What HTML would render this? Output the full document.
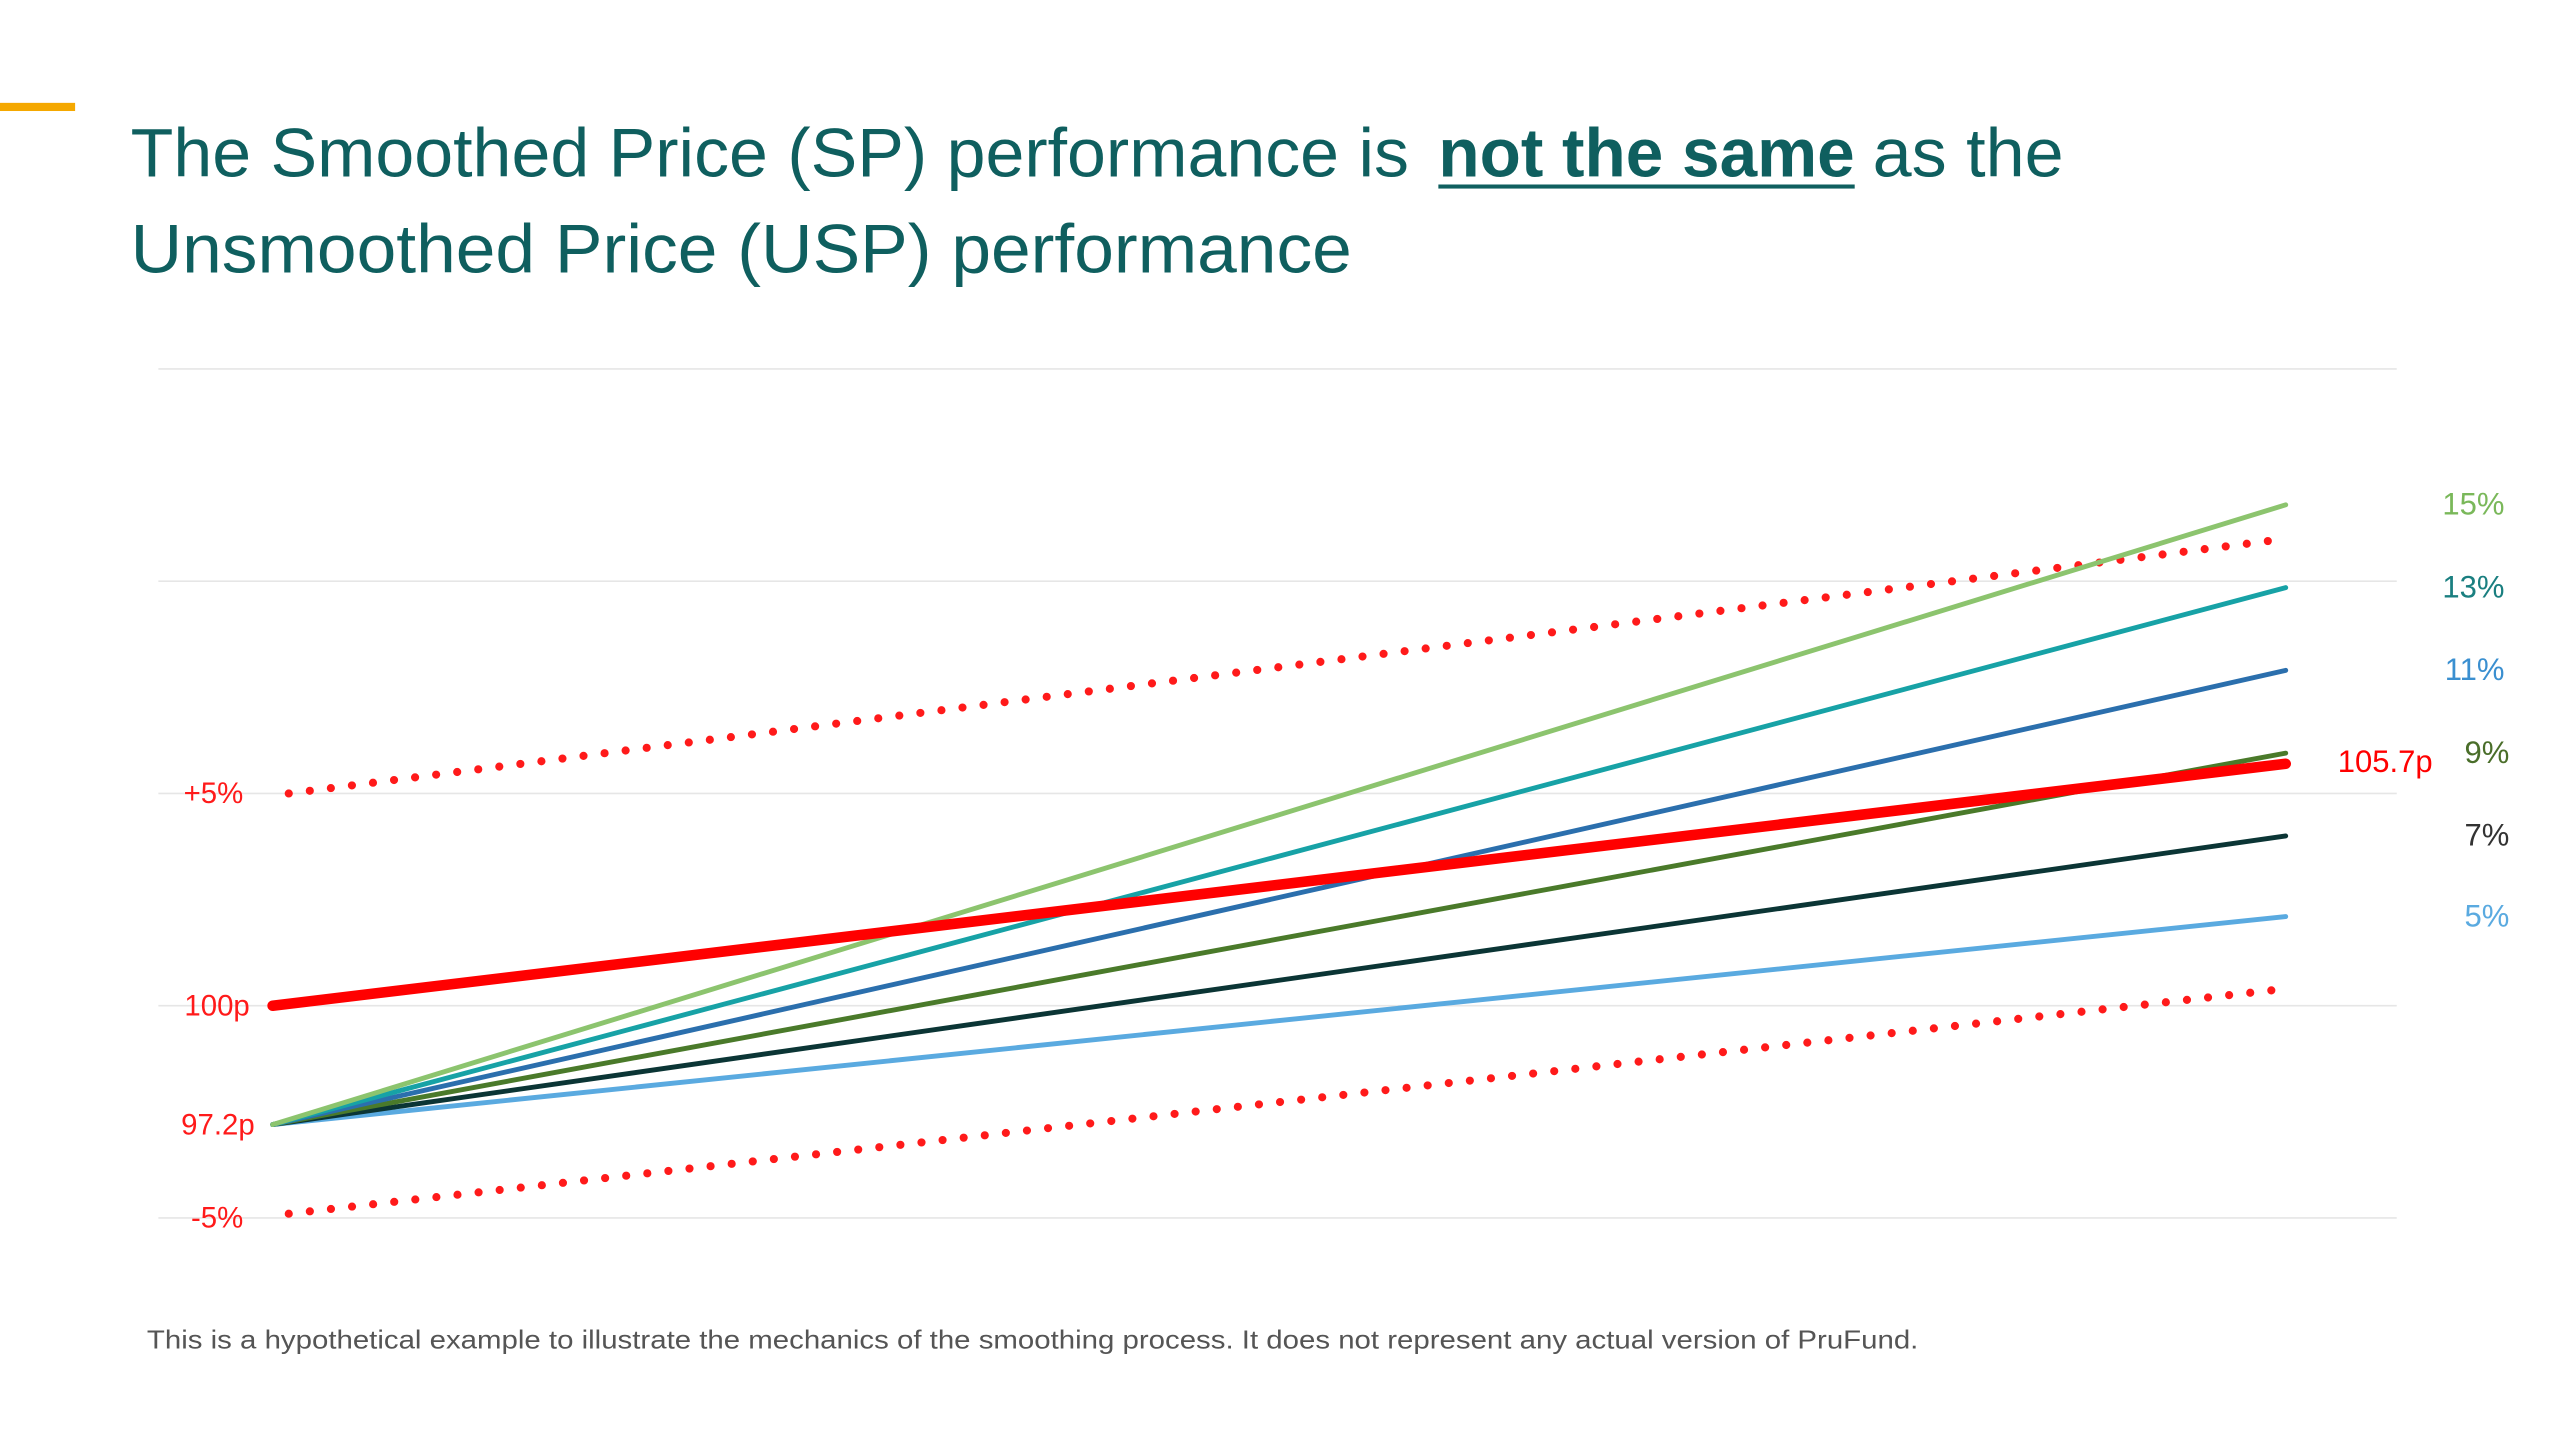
<!DOCTYPE html>
<html><head><meta charset="utf-8"><style>
html,body{margin:0;padding:0;background:#fff;}
svg{display:block;}
text{font-family:"Liberation Sans",sans-serif;}
</style></head><body>
<svg id="chart" width="2560" height="1440" viewBox="0 0 1568 882" preserveAspectRatio="none" xmlns="http://www.w3.org/2000/svg">
<rect x="0" y="0" width="1568" height="882" fill="#fff"/>
<rect x="0" y="63" width="46" height="5" fill="#f5a800"/>
<g fill="#0f5f5f" font-size="42">
<text x="80" y="108" textLength="783" lengthAdjust="spacingAndGlyphs">The Smoothed Price (SP) performance is</text>
<text x="881" y="108" textLength="255" lengthAdjust="spacingAndGlyphs" font-weight="bold">not the same</text>
<text x="1147" y="108" textLength="117" lengthAdjust="spacingAndGlyphs">as the</text>
<text x="80" y="167" textLength="748" lengthAdjust="spacingAndGlyphs">Unsmoothed Price (USP) performance</text>
</g>
<rect x="881" y="113" width="255" height="2.5" fill="#0f5f5f"/>
<g id="grid"></g>
<g id="series"></g>
<g id="labels"></g>
<text x="90" y="826" font-size="16" fill="#555" textLength="1085" lengthAdjust="spacingAndGlyphs">This is a hypothetical example to illustrate the mechanics of the smoothing process.  It does not represent any actual version of PruFund.</text>
</svg>
<script>
const gridValues = [95, 100, 105, 110, 115];
const uspNames = ['15%', '13%', '11%', '9%', '7%', '5%'];
const uspStart = [97.2, 97.2, 97.2, 97.2, 97.2, 97.2];
const uspEnd = [111.8, 109.85, 107.9, 105.95, 104.0, 102.1];
const uspColors = ['#8cc46e', '#17a2a6', '#2b6fad', '#4a7a2a', '#0b3535', '#5aaae0'];
const uspLabelColors = ['#7ab85a', '#1a7f80', '#3a8fd0', '#4a6e2a', '#333333', '#5aaae0'];
const spStart = 100, spEnd = 105.7;
const upperBand = [105, 111];
const lowerBand = [95.1, 100.4];
const axisLabels = ['+5%', '100p', '97.2p', '-5%'];
const axisLabelValues = [105, 100, 97.2, 95];

const NS = 'http://www.w3.org/2000/svg';
const X0 = 167, X1 = 1400;
function xs(t){ return X0 + t*(X1-X0); }
function ys(v){ return 616 - (v-100)*26; }
function mk(tag, attrs, parent){
  const e = document.createElementNS(NS, tag);
  for (const k in attrs) e.setAttribute(k, attrs[k]);
  parent.appendChild(e); return e;
}
const grid = document.getElementById('grid');
gridValues.forEach(v => {
  const l = mk('line', {x1:97, x2:1468, y1:ys(v), y2:ys(v), stroke:'#e6e6e6', 'stroke-width':1}, grid);
  
  
});
const series = document.getElementById('series');
function band(vals, name){
  const l = mk('line', {x1:xs(0.008), x2:xs(1), y1:ys(vals[0]), y2:ys(vals[1]), stroke:'#ff1a1a', 'stroke-width':5, 'stroke-linecap':'round', 'stroke-dasharray':'0 13'}, series);
  
  
}
band(upperBand, 'upper-band-dotted');
band(lowerBand, 'lower-band-dotted');
for (let i = uspNames.length-1; i >= 0; i--) {
  const l = mk('line', {x1:xs(0), x2:xs(1), y1:ys(uspStart[i]), y2:ys(uspEnd[i]), stroke:uspColors[i], 'stroke-width':3, 'stroke-linecap':'round'}, series);
  
  
}
const sp = mk('line', {x1:xs(0), x2:xs(1), y1:ys(spStart), y2:ys(spEnd), stroke:'#ff0000', 'stroke-width':6.5, 'stroke-linecap':'round'}, series);



const labels = document.getElementById('labels');
const labelY = [307, 359, 411, 461, 514, 564];
uspNames.forEach((n, i) => {
  const t = mk('text', {x: (i>=3 ? 1537 : 1534), y: ys(uspEnd[i]) + 6, 'font-size':19, fill:uspLabelColors[i], 'text-anchor':'end'}, labels);
  t.textContent = n;
  
  
});
const spl = mk('text', {x:1490, y:ys(spEnd)+5, 'font-size':19, fill:'#ff0000', 'text-anchor':'end'}, labels);
spl.textContent = spEnd + 'p';


axisLabels.forEach((s, i) => {
  const t = mk('text', {x:(s==='97.2p'?156:(s==='100p'?153:149)), y:ys(axisLabelValues[i])+6, 'font-size':18, fill:'#ff1a1a', 'text-anchor':'end'}, labels);
  t.textContent = s;
  
  
});
</script>
</body></html>
